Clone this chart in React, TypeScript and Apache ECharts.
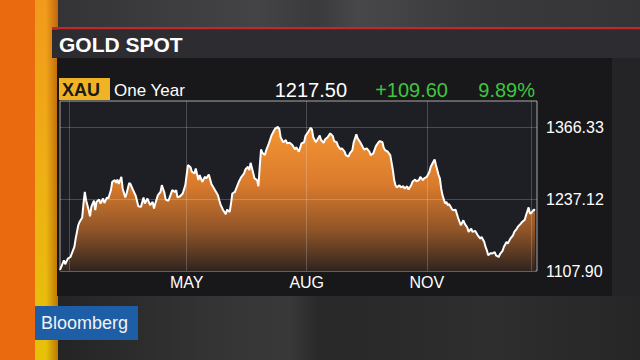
import React, { useEffect, useRef } from 'react';
import * as echarts from 'echarts';

const FONT = '"Liberation Sans", Arial, Helvetica, sans-serif';
const DAY = 86400000;
const START = new Date(2016, 0, 25).getTime();
const SPAN_DAYS = 365.4;

// day offsets from 2016-01-25 and XAU spot prices
const dayOffsets = [
  0, 3, 4, 6, 8, 9, 11, 12, 14, 15,
  17, 18, 19, 20, 22, 23, 24, 26, 27, 28,
  30, 31, 33, 34, 36, 37, 39, 40, 42, 43,
  44, 45, 47, 48, 50, 51, 53, 54, 56, 58,
  60, 62, 64, 65, 67, 69, 71, 72, 73, 75,
  77, 78, 80, 81, 83, 84, 86, 88, 89, 90,
  92, 94, 96, 97, 98, 100, 101, 103, 104, 106,
  107, 109, 111, 112, 114, 116, 118, 121, 122, 123,
  125, 127, 128, 130, 131, 132, 134, 135, 137, 139,
  141, 142, 144, 145, 146, 148, 149, 151, 152, 153,
  154, 155, 157, 158, 160, 162, 164, 165, 167, 168,
  169, 171, 173, 174, 176, 178, 180, 181, 183, 185,
  187, 188, 190, 192, 193, 194, 196, 197, 199, 200,
  202, 203, 205, 207, 209, 210, 212, 213, 215, 216,
  218, 219, 221, 222, 224, 225, 227, 228, 230, 232,
  233, 235, 237, 238, 240, 242, 244, 245, 247, 248,
  249, 251, 253, 255, 256, 257, 258, 260, 261, 263,
  264, 266, 267, 269, 270, 272, 273, 275, 276, 278,
  279, 281, 283, 284, 286, 287, 288, 290, 291, 292,
  293, 295, 296, 297, 298, 300, 301, 303, 305, 307,
  309, 310, 312, 313, 315, 316, 318, 319, 320, 322,
  323, 325, 326, 327, 328, 330, 331, 333, 334, 336,
  337, 339, 340, 342, 343, 345, 347, 348, 350, 351,
  353, 354, 356, 357, 359, 360, 361, 363, 364,
];

const prices = [
  1110, 1127, 1120, 1130, 1133, 1139, 1151, 1166, 1190, 1196,
  1204, 1229, 1250, 1235, 1217, 1206, 1223, 1234, 1217, 1232,
  1236, 1229, 1238, 1230, 1240, 1238, 1253, 1268, 1271, 1266,
  1272, 1264, 1277, 1256, 1240, 1247, 1266, 1264, 1253, 1243,
  1224, 1223, 1240, 1229, 1238, 1226, 1232, 1220, 1229, 1244,
  1250, 1262, 1248, 1236, 1234, 1240, 1253, 1250, 1253, 1240,
  1242, 1247, 1262, 1280, 1298, 1294, 1286, 1283, 1292, 1271,
  1280, 1268, 1277, 1274, 1281, 1264, 1256, 1244, 1235, 1227,
  1217, 1210, 1218, 1214, 1229, 1247, 1250, 1256, 1268, 1277,
  1283, 1290, 1295, 1289, 1302, 1284, 1274, 1271, 1260, 1295,
  1326, 1320, 1316, 1325, 1337, 1351, 1360, 1364, 1366.33, 1363,
  1348, 1339, 1343, 1337, 1338, 1334, 1326, 1330, 1322, 1337,
  1339, 1350, 1357, 1365, 1362, 1348, 1339, 1343, 1351, 1343,
  1338, 1344, 1348, 1355, 1350, 1341, 1339, 1332, 1326, 1328,
  1322, 1316, 1313, 1319, 1325, 1339, 1353, 1346, 1339, 1330,
  1326, 1328, 1322, 1316, 1319, 1332, 1339, 1341, 1339, 1329,
  1325, 1322, 1316, 1289, 1271, 1262, 1258, 1262, 1258, 1260,
  1256, 1260, 1254, 1262, 1268, 1272, 1269, 1271, 1277, 1271,
  1274, 1277, 1286, 1295, 1304, 1308, 1298, 1280, 1274, 1256,
  1244, 1229, 1232, 1226, 1228, 1220, 1217, 1218, 1203, 1190,
  1199, 1193, 1186, 1178, 1184, 1178, 1180, 1176, 1172, 1166,
  1169, 1160, 1151, 1145, 1136, 1140, 1139, 1142, 1136, 1133,
  1138, 1144, 1151, 1160, 1157, 1166, 1172, 1178, 1184, 1188,
  1193, 1196, 1200, 1208, 1222, 1211, 1212, 1218, 1217.5,
];

// y-axis: min, mid, max of the year
const yTickLabels = ['1107.90', '1237.12', '1366.33'];
const Y_MIN = 1107.9;
const Y_TOP = 1366.33;
const Y_STEP = (Y_TOP - Y_MIN) / 2;
const Y_MAX = 1413;

// x-axis month marks
const gridDates: [number, number, number][] = [
  [2016, 1, 1],
  [2016, 4, 1],
  [2016, 7, 1],
  [2016, 10, 1],
  [2017, 0, 20],
];
const labelDates: [number, number, number][] = [
  [2016, 4, 1],
  [2016, 7, 1],
  [2016, 10, 1],
];
const monthNames = ['JAN', 'FEB', 'MAR', 'APR', 'MAY', 'JUN', 'JUL', 'AUG', 'SEP', 'OCT', 'NOV', 'DEC'];

// header texts
const title = 'GOLD SPOT';
const ticker = 'XAU';
const period = 'One Year';
const lastPrice = '1217.50';
const netChange = '+109.60';
const pctChange = '9.89%';
const brand = 'Bloomberg';

const toDay = (d: [number, number, number]) =>
  Math.round((new Date(d[0], d[1], d[2]).getTime() - START) / DAY);

function buildOption() {
  const data = dayOffsets.map((d, i) => [d, prices[i]]);
  const gridDays = gridDates.map(toDay);
  const labelDays = labelDates.map(toDay);

  const grid = 'rgba(255,255,255,0.2)';

  return {
    animation: false,
    backgroundColor: '#2a2a2c',
    textStyle: { fontFamily: FONT },
    grid: {
      left: 60,
      top: 101,
      width: 477,
      height: 170,
      show: true,
      backgroundColor: '#1e1f24',
      borderColor: '#a9a9a9',
      borderWidth: 1,
    },
    xAxis: {
      type: 'value',
      min: 0,
      max: SPAN_DAYS,
      axisLine: { show: false },
      axisTick: { show: false },
      splitLine: { show: false },
      axisLabel: {
        customValues: labelDays,
        color: '#ffffff',
        fontSize: 16,
        fontFamily: FONT,
        margin: 3,
        formatter: (v: number) => monthNames[new Date(START + v * DAY + DAY / 2).getMonth()],
      },
    },
    yAxis: {
      type: 'value',
      position: 'right',
      min: Y_MIN,
      max: Y_MAX,
      interval: Y_STEP,
      axisLine: { show: false },
      axisTick: { show: false },
      splitLine: { show: false },
      axisLabel: {
        color: '#ffffff',
        fontSize: 16,
        fontFamily: FONT,
        margin: 9,
        showMaxLabel: false,
        verticalAlign: 'middle',
        padding: [0, 0, 9, 0],
        formatter: (v: number) => {
          const idx = Math.round((v - Y_MIN) / Y_STEP);
          return yTickLabels[idx] ?? '';
        },
      },
    },
    series: [
      {
        type: 'line',
        data,
        showSymbol: false,
        symbol: 'none',
        lineStyle: { color: '#ffffff', width: 2 },
        areaStyle: {
          opacity: 1,
          color: new echarts.graphic.LinearGradient(0, 0, 0, 1, [
            { offset: 0, color: '#f59433' },
            { offset: 0.4, color: '#d97b2d' },
            { offset: 0.72, color: '#8f5427' },
            { offset: 1, color: '#2f241f' },
          ]),
        },
        markLine: {
          silent: true,
          symbol: 'none',
          label: { show: false },
          lineStyle: { color: grid, width: 1, type: 'solid' },
          data: [
            ...gridDays.map((t) => ({ xAxis: t })),
            { yAxis: Y_MIN + Y_STEP },
            { yAxis: Y_TOP },
          ],
        },
      },
    ],
    graphic: [
      { type: 'rect', z: -20, shape: { x: 0, y: 0, width: 640, height: 360 }, style: { fill: '#2a2a2c' } },
      {
        type: 'rect', z: -19, shape: { x: 52, y: 0, width: 588, height: 28 },
        style: {
          fill: new echarts.graphic.LinearGradient(0, 0, 1, 0, [
            { offset: 0, color: '#333335' },
            { offset: 0.2, color: '#3d3d3f' },
            { offset: 0.35, color: '#444446' },
            { offset: 0.45, color: '#3a3a3c' },
            { offset: 0.52, color: '#48484a' },
            { offset: 0.7, color: '#3b3b3d' },
            { offset: 1, color: '#343436' },
          ]),
        },
      },
      {
        type: 'rect', z: -19, shape: { x: 57, y: 296, width: 583, height: 64 },
        style: {
          fill: new echarts.graphic.LinearGradient(0, 0, 1, 0, [
            { offset: 0, color: '#242424' },
            { offset: 0.25, color: '#333333' },
            { offset: 0.4, color: '#393939' },
            { offset: 0.45, color: '#282828' },
            { offset: 0.75, color: '#2e2e2e' },
            { offset: 1, color: '#262626' },
          ]),
        },
      },
      { type: 'rect', z: -18, shape: { x: 0, y: 0, width: 35, height: 360 }, style: { fill: '#ea6a10' } },
      {
        type: 'rect', z: -18, shape: { x: 35, y: 0, width: 23, height: 360 },
        style: {
          fill: new echarts.graphic.LinearGradient(0, 0, 0, 1, [
            { offset: 0, color: '#f19a1c' },
            { offset: 0.5, color: '#eeb014' },
            { offset: 1, color: '#e6c208' },
          ]),
        },
      },
      {
        type: 'rect', z: -17, shape: { x: 46, y: 0, width: 12, height: 360 },
        style: {
          fill: new echarts.graphic.LinearGradient(0, 0, 1, 0, [
            { offset: 0, color: 'rgba(150,60,0,0)' },
            { offset: 1, color: 'rgba(150,60,0,0.55)' },
          ]),
        },
      },
      { type: 'rect', z: -16, shape: { x: 52, y: 27, width: 588, height: 2.5 }, style: { fill: '#c4262a' } },
      { type: 'rect', z: -16, shape: { x: 52, y: 29.5, width: 588, height: 28.5 }, style: { fill: '#2d2d31' } },
      { type: 'rect', z: -16, shape: { x: 57, y: 58, width: 555, height: 238 }, style: { fill: '#18181b' } },
      { type: 'rect', z: -16, shape: { x: 612, y: 58, width: 28, height: 238 }, style: { fill: '#242426' } },
      {
        type: 'text', z: 10, x: 59, y: 44,
        style: { text: title, fill: '#ffffff', font: `bold 21px ${FONT}`, align: 'left', verticalAlign: 'middle' },
      },
      { type: 'rect', z: 10, shape: { x: 59, y: 78, width: 51, height: 22 }, style: { fill: '#f0b323' } },
      {
        type: 'text', z: 11, x: 62, y: 90,
        style: { text: ticker, fill: '#1a1a1a', font: `bold 18px ${FONT}`, align: 'left', verticalAlign: 'middle' },
      },
      {
        type: 'text', z: 10, x: 114, y: 90,
        style: { text: period, fill: '#ffffff', font: `17px ${FONT}`, align: 'left', verticalAlign: 'middle' },
      },
      {
        type: 'text', z: 10, x: 347, y: 90,
        style: { text: lastPrice, fill: '#ffffff', font: `20px ${FONT}`, align: 'right', verticalAlign: 'middle' },
      },
      {
        type: 'text', z: 10, x: 448, y: 90,
        style: { text: netChange, fill: '#3ec63e', font: `20px ${FONT}`, align: 'right', verticalAlign: 'middle' },
      },
      {
        type: 'text', z: 10, x: 535, y: 90,
        style: { text: pctChange, fill: '#3ec63e', font: `20px ${FONT}`, align: 'right', verticalAlign: 'middle' },
      },
      { type: 'rect', z: 10, shape: { x: 35, y: 306, width: 103, height: 34 }, style: { fill: '#1e5ea6' } },
      {
        type: 'text', z: 11, x: 41, y: 323,
        style: { text: brand, fill: '#f2f2f2', font: `18px ${FONT}`, align: 'left', verticalAlign: 'middle' },
      },
    ],
  };
}

export default function App() {
  const ref = useRef<HTMLDivElement>(null);
  useEffect(() => {
    document.body.style.margin = '0';
    const chart = echarts.init(ref.current as HTMLDivElement, null, { renderer: 'svg' });
    chart.setOption(buildOption() as any);
    return () => chart.dispose();
  }, []);
  return (
    <div
      ref={ref}
      style={{ position: 'fixed', left: 0, top: 0, width: 640, height: 360 }}
    />
  );
}
